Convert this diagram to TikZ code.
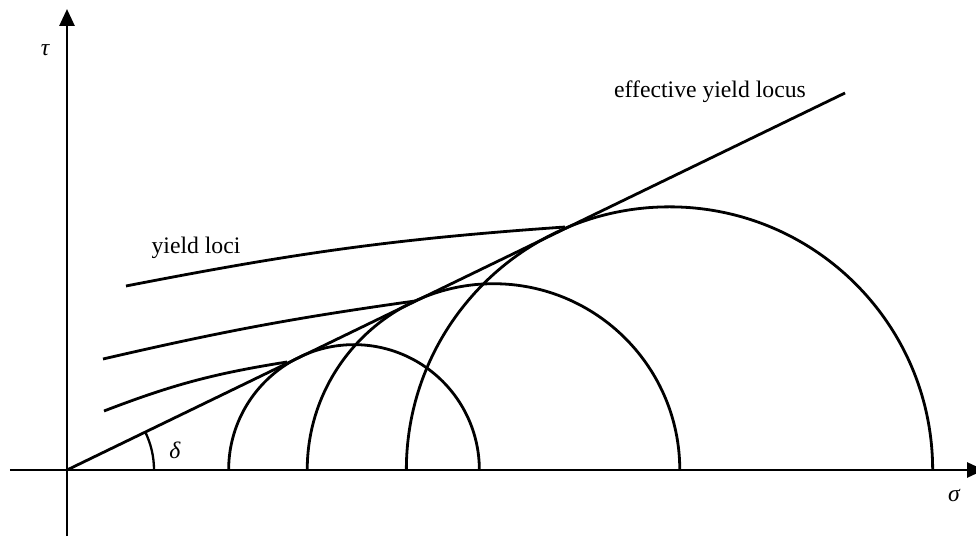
\documentclass[tikz,border=0pt]{standalone}
\usepackage{fontspec}
\setmainfont{Liberation Serif}
\usetikzlibrary{arrows.meta}
\begin{document}
\begin{tikzpicture}[x=1pt,y=1pt,
  curve/.style={line width=2.8pt},
  axis/.style={line width=2.8pt,-{Triangle[length=17pt,width=15pt]}},
  lbl/.style={font=\fontsize{23.7}{28}\selectfont, inner sep=0pt}]
\useasboundingbox (-67,-68) rectangle (909,470);
\pgfmathsetmacro{\dang}{25.9}
\pgfmathsetmacro{\ra}{287*sin(\dang)}
\pgfmathsetmacro{\rb}{426.5*sin(\dang)}
\pgfmathsetmacro{\rc}{602.5*sin(\dang)}
% axes
\coordinate (O) at (0,0);
\coordinate (xs) at (-57,0);
\coordinate (xe) at (917,0);
\coordinate (ys) at (0,-66);
\coordinate (ye) at (0,461);
\draw[axis] (xs) -- (xe);
\draw[axis] (ys) -- (ye);
% effective yield locus
\coordinate (E) at (778,377);
\draw[curve] (O) -- (E);
% Mohr semicircles
\coordinate (c1) at ({287-\ra},0);
\coordinate (c2) at ({426.5-\rb},0);
\coordinate (c3) at ({602.5-\rc},0);
\draw[curve] (c1) arc[start angle=180,end angle=0,radius=\ra];
\draw[curve] (c2) arc[start angle=180,end angle=0,radius=\rb];
\draw[curve] (c3) arc[start angle=180,end angle=0,radius=\rc];
% yield loci
\coordinate (a1) at (37,59);   \coordinate (b1) at (220,108);
\coordinate (a2) at (36,111);  \coordinate (b2) at (348,169);
\coordinate (a3) at (59,184);  \coordinate (b3) at (498,243);
\draw[curve] (a1) to[out=21,in=189] (b1);
\draw[curve] (a2) to[out=13,in=188] (b2);
\draw[curve] (a3) to[out=11,in=184] (b3);
% angle
\coordinate (d0) at (87,0);
\draw[line width=2.3pt] (d0) arc[start angle=0,end angle=\dang,radius=87];
% labels
\node[lbl] (tau) at (-22,420) {\itshape τ};
\node[lbl] (sigma) at (887,-26) {\itshape σ};
\node[lbl] (delta) at (108,20) {\itshape δ};
\node[lbl,anchor=base] (yl) at (129,216) {yield loci};
\node[lbl,anchor=base] (eyl) at (643,372) {effective yield locus};
\end{tikzpicture}
\end{document}
